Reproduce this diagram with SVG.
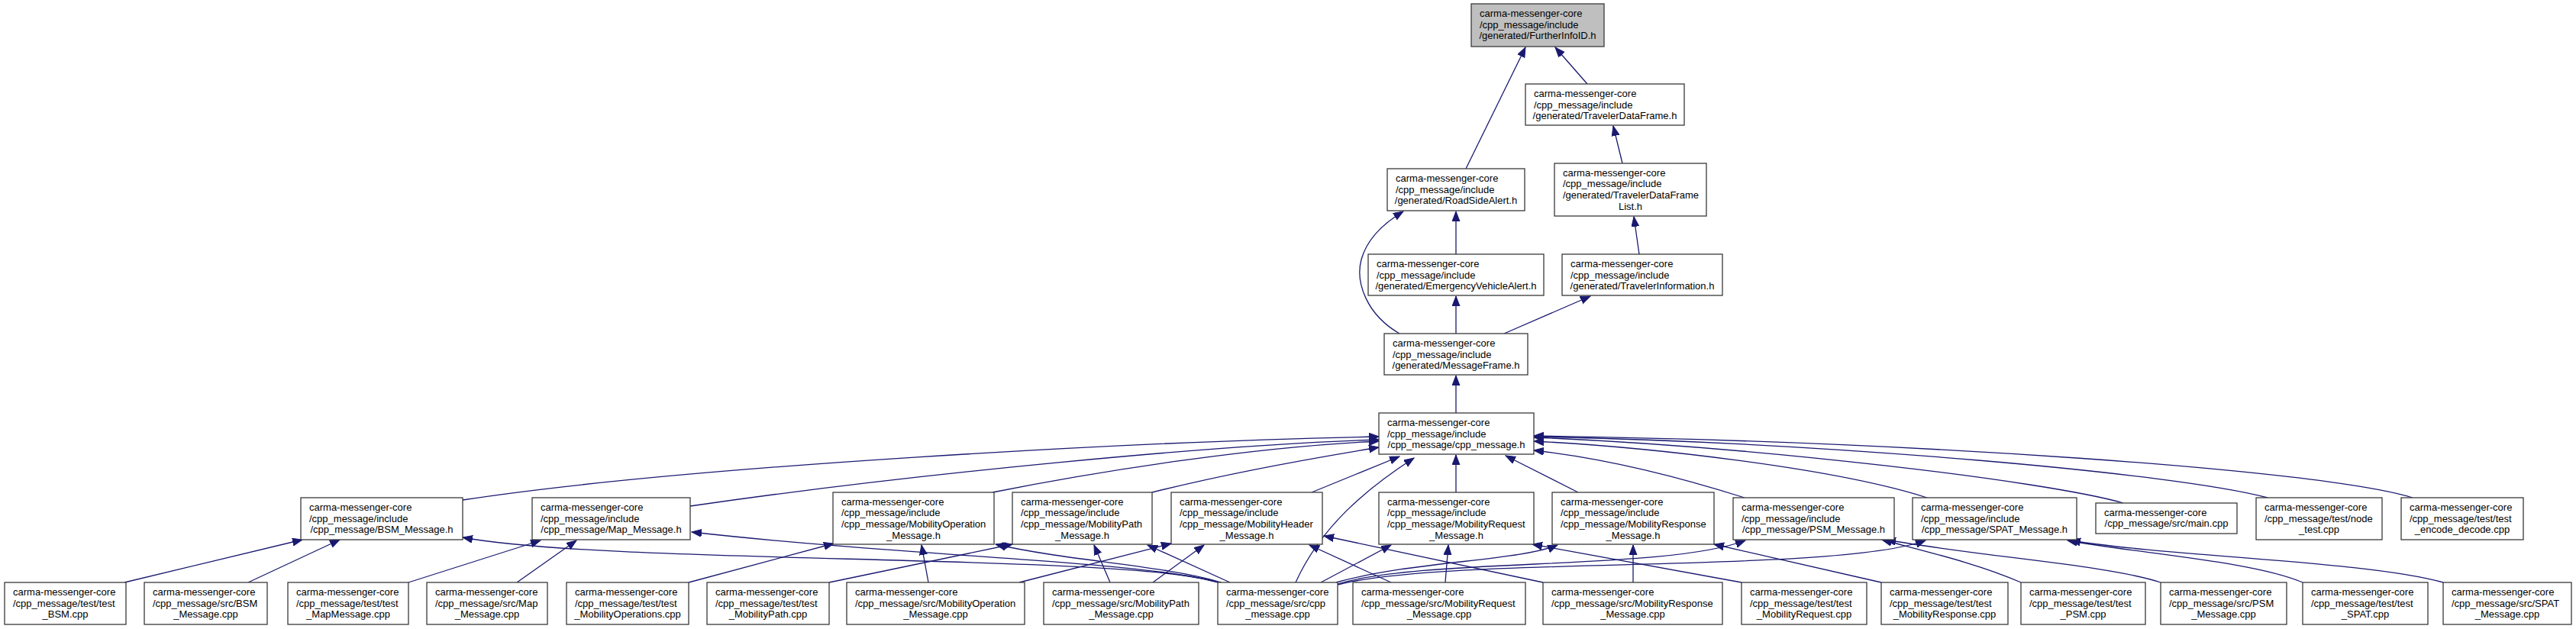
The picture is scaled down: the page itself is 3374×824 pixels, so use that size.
<svg xmlns="http://www.w3.org/2000/svg" width="3374" height="824" viewBox="0 0 3374 824">
<style>
.node rect{fill:#ffffff;stroke:#3a3a3a;stroke-width:1.3}
.node text{font-family:"Liberation Sans",Arial,sans-serif;font-size:13px;fill:#000}
.c{text-anchor:middle}
#edges path{fill:none;stroke:#191970;stroke-width:1.3;marker-end:url(#ah)}
</style>
<defs>
<marker id="ah" markerUnits="userSpaceOnUse" markerWidth="14" markerHeight="11" refX="13" refY="5" orient="auto">
<path d="M0,0 L13,5 L0,10 z" fill="#191970" stroke="#191970" stroke-width="1"/>
</marker>
</defs>
<rect width="3374" height="824" fill="#ffffff"/>

<g id="edges">
<path d="M1920,221 L1998,62"/>
<path d="M2079,110 L2037,62"/>
<path d="M2125,214 L2113,165"/>
<path d="M2147,333 L2140,284"/>
<path d="M1907,333 L1907,277"/>
<path d="M1833,437 C1790,412 1775,370 1783,340 C1790,315 1808,295 1838,277"/>
<path d="M1907,437 L1907,388"/>
<path d="M1970,437 L2083,388"/>
<path d="M1907,541 L1907,492"/>

<path d="M606,655 C900,610 1500,578 1806,572"/>
<path d="M904,663 C1200,620 1600,582 1806,576"/>
<path d="M1300,645 C1450,615 1650,585 1806,578"/>
<path d="M1509,645 C1600,622 1720,600 1806,586"/>
<path d="M1718,645 L1833,598"/>
<path d="M1907,645 L1907,596"/>
<path d="M2067,645 L1972,597"/>
<path d="M2285,652 C2200,625 2100,600 2009,590"/>
<path d="M2524,652 C2400,612 2150,585 2009,578"/>
<path d="M2781,659 C2680,630 2300,585 2009,573"/>
<path d="M2970,652 C2850,620 2400,580 2009,572"/>
<path d="M3160,652 C3040,615 2500,578 2009,571"/>

<path d="M163,763 L396,707"/>
<path d="M325,763 L445,707"/>
<path d="M535,763 L708,708"/>
<path d="M677,763 L755,708"/>
<path d="M902,763 L1092,712"/>
<path d="M1086,763 L1326,713"/>
<path d="M1216,763 L1207,714"/>
<path d="M1335,763 L1534,712"/>
<path d="M1454,763 L1433,714"/>
<path d="M1510,763 L1577,714"/>
<path d="M1595,763 C1480,725 800,740 606,704"/>
<path d="M1595,763 C1500,735 1200,730 906,697"/>
<path d="M1600,763 C1520,740 1400,735 1304,713"/>
<path d="M1611,763 L1503,714"/>
<path d="M1697,763 C1730,690 1790,640 1852,600"/>
<path d="M1730,763 L1822,714"/>
<path d="M1750,763 C1850,735 1990,735 2040,714"/>
<path d="M1752,765 C1870,730 2180,748 2286,708"/>
<path d="M1752,766 C1900,728 2400,752 2522,708"/>
<path d="M1822,763 L1715,714"/>
<path d="M1893,763 L1897,714"/>
<path d="M2021,763 L1734,702"/>
<path d="M2139,763 L2139,714"/>
<path d="M2281,763 L2007,713"/>
<path d="M2464,763 L2245,713"/>
<path d="M2647,763 C2590,738 2520,722 2465,707"/>
<path d="M2830,763 C2760,740 2600,730 2470,707"/>
<path d="M3016,763 C2950,735 2800,725 2708,708"/>
<path d="M3200,763 C3100,735 2850,730 2712,708"/>
</g>

<g id="n0" class="node"><rect x="1927" y="5" width="174" height="56" style="fill:#bfbfbf"/><text><tspan x="1938" y="22">carma-messenger-core</tspan><tspan x="1938" y="36.7">/cpp_message/include</tspan><tspan class="c" x="2014" y="51.4">/generated/FurtherInfoID.h</tspan></text></g>
<g id="n1" class="node"><rect x="1998" y="110" width="208" height="54"/><text><tspan x="2009" y="127">carma-messenger-core</tspan><tspan x="2009" y="141.7">/cpp_message/include</tspan><tspan class="c" x="2102" y="156.4">/generated/TravelerDataFrame.h</tspan></text></g>
<g id="n2" class="node"><rect x="1817" y="221" width="180" height="55"/><text><tspan x="1828" y="238">carma-messenger-core</tspan><tspan x="1828" y="252.7">/cpp_message/include</tspan><tspan class="c" x="1907" y="267.4">/generated/RoadSideAlert.h</tspan></text></g>
<g id="n3" class="node"><rect x="2036" y="214" width="199" height="69"/><text><tspan x="2047" y="230.5">carma-messenger-core</tspan><tspan x="2047" y="245.2">/cpp_message/include</tspan><tspan x="2047" y="259.9">/generated/TravelerDataFrame</tspan><tspan class="c" x="2135.5" y="274.6">List.h</tspan></text></g>
<g id="n4" class="node"><rect x="1792" y="333" width="230" height="54"/><text><tspan x="1803" y="350">carma-messenger-core</tspan><tspan x="1803" y="364.7">/cpp_message/include</tspan><tspan class="c" x="1907" y="379.4">/generated/EmergencyVehicleAlert.h</tspan></text></g>
<g id="n5" class="node"><rect x="2046" y="333" width="210" height="54"/><text><tspan x="2057" y="350">carma-messenger-core</tspan><tspan x="2057" y="364.7">/cpp_message/include</tspan><tspan class="c" x="2151" y="379.4">/generated/TravelerInformation.h</tspan></text></g>
<g id="n6" class="node"><rect x="1813" y="437" width="188" height="54"/><text><tspan x="1824" y="454">carma-messenger-core</tspan><tspan x="1824" y="468.7">/cpp_message/include</tspan><tspan class="c" x="1907" y="483.4">/generated/MessageFrame.h</tspan></text></g>
<g id="n7" class="node"><rect x="1806" y="541" width="203" height="54"/><text><tspan x="1817" y="558">carma-messenger-core</tspan><tspan x="1817" y="572.7">/cpp_message/include</tspan><tspan class="c" x="1907.5" y="587.4">/cpp_message/cpp_message.h</tspan></text></g>

<g id="n8" class="node"><rect x="394" y="652" width="212" height="55"/><text><tspan x="405" y="669">carma-messenger-core</tspan><tspan x="405" y="683.7">/cpp_message/include</tspan><tspan class="c" x="500" y="698.4">/cpp_message/BSM_Message.h</tspan></text></g>
<g id="n9" class="node"><rect x="697" y="652" width="207" height="55"/><text><tspan x="708" y="669">carma-messenger-core</tspan><tspan x="708" y="683.7">/cpp_message/include</tspan><tspan class="c" x="800.5" y="698.4">/cpp_message/Map_Message.h</tspan></text></g>
<g id="n10" class="node"><rect x="1091" y="645" width="211" height="68"/><text><tspan x="1102" y="661.5">carma-messenger-core</tspan><tspan x="1102" y="676.2">/cpp_message/include</tspan><tspan x="1102" y="690.9">/cpp_message/MobilityOperation</tspan><tspan class="c" x="1196.5" y="705.6">_Message.h</tspan></text></g>
<g id="n11" class="node"><rect x="1326" y="645" width="183" height="68"/><text><tspan x="1337" y="661.5">carma-messenger-core</tspan><tspan x="1337" y="676.2">/cpp_message/include</tspan><tspan x="1337" y="690.9">/cpp_message/MobilityPath</tspan><tspan class="c" x="1417.5" y="705.6">_Message.h</tspan></text></g>
<g id="n12" class="node"><rect x="1534" y="645" width="198" height="68"/><text><tspan x="1545" y="661.5">carma-messenger-core</tspan><tspan x="1545" y="676.2">/cpp_message/include</tspan><tspan x="1545" y="690.9">/cpp_message/MobilityHeader</tspan><tspan class="c" x="1633" y="705.6">_Message.h</tspan></text></g>
<g id="n13" class="node"><rect x="1806" y="645" width="203" height="68"/><text><tspan x="1817" y="661.5">carma-messenger-core</tspan><tspan x="1817" y="676.2">/cpp_message/include</tspan><tspan x="1817" y="690.9">/cpp_message/MobilityRequest</tspan><tspan class="c" x="1907.5" y="705.6">_Message.h</tspan></text></g>
<g id="n14" class="node"><rect x="2033" y="645" width="212" height="68"/><text><tspan x="2044" y="661.5">carma-messenger-core</tspan><tspan x="2044" y="676.2">/cpp_message/include</tspan><tspan x="2044" y="690.9">/cpp_message/MobilityResponse</tspan><tspan class="c" x="2139" y="705.6">_Message.h</tspan></text></g>
<g id="n15" class="node"><rect x="2270" y="652" width="211" height="55"/><text><tspan x="2281" y="669">carma-messenger-core</tspan><tspan x="2281" y="683.7">/cpp_message/include</tspan><tspan class="c" x="2375.5" y="698.4">/cpp_message/PSM_Message.h</tspan></text></g>
<g id="n16" class="node"><rect x="2505" y="652" width="215" height="55"/><text><tspan x="2516" y="669">carma-messenger-core</tspan><tspan x="2516" y="683.7">/cpp_message/include</tspan><tspan class="c" x="2612.5" y="698.4">/cpp_message/SPAT_Message.h</tspan></text></g>
<g id="n17" class="node"><rect x="2745" y="659" width="185" height="40"/><text><tspan x="2756" y="675.5">carma-messenger-core</tspan><tspan class="c" x="2837.5" y="690.2">/cpp_message/src/main.cpp</tspan></text></g>
<g id="n18" class="node"><rect x="2955" y="652" width="165" height="55"/><text><tspan x="2966" y="669">carma-messenger-core</tspan><tspan x="2966" y="683.7">/cpp_message/test/node</tspan><tspan class="c" x="3037.5" y="698.4">_test.cpp</tspan></text></g>
<g id="n19" class="node"><rect x="3145" y="652" width="160" height="55"/><text><tspan x="3156" y="669">carma-messenger-core</tspan><tspan x="3156" y="683.7">/cpp_message/test/test</tspan><tspan class="c" x="3225" y="698.4">_encode_decode.cpp</tspan></text></g>

<g id="n20" class="node"><rect x="6" y="763" width="159" height="55"/><text><tspan x="17" y="780">carma-messenger-core</tspan><tspan x="17" y="794.7">/cpp_message/test/test</tspan><tspan class="c" x="85.5" y="809.4">_BSM.cpp</tspan></text></g>
<g id="n21" class="node"><rect x="189" y="763" width="161" height="55"/><text><tspan x="200" y="780">carma-messenger-core</tspan><tspan x="200" y="794.7">/cpp_message/src/BSM</tspan><tspan class="c" x="269.5" y="809.4">_Message.cpp</tspan></text></g>
<g id="n22" class="node"><rect x="377" y="763" width="158" height="55"/><text><tspan x="388" y="780">carma-messenger-core</tspan><tspan x="388" y="794.7">/cpp_message/test/test</tspan><tspan class="c" x="456" y="809.4">_MapMessage.cpp</tspan></text></g>
<g id="n23" class="node"><rect x="559" y="763" width="158" height="55"/><text><tspan x="570" y="780">carma-messenger-core</tspan><tspan x="570" y="794.7">/cpp_message/src/Map</tspan><tspan class="c" x="638" y="809.4">_Message.cpp</tspan></text></g>
<g id="n24" class="node"><rect x="742" y="763" width="160" height="55"/><text><tspan x="753" y="780">carma-messenger-core</tspan><tspan x="753" y="794.7">/cpp_message/test/test</tspan><tspan class="c" x="822" y="809.4">_MobilityOperations.cpp</tspan></text></g>
<g id="n25" class="node"><rect x="926" y="763" width="160" height="55"/><text><tspan x="937" y="780">carma-messenger-core</tspan><tspan x="937" y="794.7">/cpp_message/test/test</tspan><tspan class="c" x="1006" y="809.4">_MobilityPath.cpp</tspan></text></g>
<g id="n26" class="node"><rect x="1109" y="763" width="233" height="55"/><text><tspan x="1120" y="780">carma-messenger-core</tspan><tspan x="1120" y="794.7">/cpp_message/src/MobilityOperation</tspan><tspan class="c" x="1225.5" y="809.4">_Message.cpp</tspan></text></g>
<g id="n27" class="node"><rect x="1367" y="763" width="203" height="55"/><text><tspan x="1378" y="780">carma-messenger-core</tspan><tspan x="1378" y="794.7">/cpp_message/src/MobilityPath</tspan><tspan class="c" x="1468.5" y="809.4">_Message.cpp</tspan></text></g>
<g id="n28" class="node"><rect x="1595" y="763" width="157" height="55"/><text><tspan x="1606" y="780">carma-messenger-core</tspan><tspan x="1606" y="794.7">/cpp_message/src/cpp</tspan><tspan class="c" x="1673.5" y="809.4">_message.cpp</tspan></text></g>
<g id="n29" class="node"><rect x="1772" y="763" width="226" height="55"/><text><tspan x="1783" y="780">carma-messenger-core</tspan><tspan x="1783" y="794.7">/cpp_message/src/MobilityRequest</tspan><tspan class="c" x="1885" y="809.4">_Message.cpp</tspan></text></g>
<g id="n30" class="node"><rect x="2021" y="763" width="235" height="55"/><text><tspan x="2032" y="780">carma-messenger-core</tspan><tspan x="2032" y="794.7">/cpp_message/src/MobilityResponse</tspan><tspan class="c" x="2138.5" y="809.4">_Message.cpp</tspan></text></g>
<g id="n31" class="node"><rect x="2281" y="763" width="164" height="55"/><text><tspan x="2292" y="780">carma-messenger-core</tspan><tspan x="2292" y="794.7">/cpp_message/test/test</tspan><tspan class="c" x="2363" y="809.4">_MobilityRequest.cpp</tspan></text></g>
<g id="n32" class="node"><rect x="2464" y="763" width="166" height="55"/><text><tspan x="2475" y="780">carma-messenger-core</tspan><tspan x="2475" y="794.7">/cpp_message/test/test</tspan><tspan class="c" x="2547" y="809.4">_MobilityResponse.cpp</tspan></text></g>
<g id="n33" class="node"><rect x="2647" y="763" width="163" height="55"/><text><tspan x="2658" y="780">carma-messenger-core</tspan><tspan x="2658" y="794.7">/cpp_message/test/test</tspan><tspan class="c" x="2728.5" y="809.4">_PSM.cpp</tspan></text></g>
<g id="n34" class="node"><rect x="2830" y="763" width="165" height="55"/><text><tspan x="2841" y="780">carma-messenger-core</tspan><tspan x="2841" y="794.7">/cpp_message/src/PSM</tspan><tspan class="c" x="2912.5" y="809.4">_Message.cpp</tspan></text></g>
<g id="n35" class="node"><rect x="3016" y="763" width="164" height="55"/><text><tspan x="3027" y="780">carma-messenger-core</tspan><tspan x="3027" y="794.7">/cpp_message/test/test</tspan><tspan class="c" x="3098" y="809.4">_SPAT.cpp</tspan></text></g>
<g id="n36" class="node"><rect x="3200" y="763" width="168" height="55"/><text><tspan x="3211" y="780">carma-messenger-core</tspan><tspan x="3211" y="794.7">/cpp_message/src/SPAT</tspan><tspan class="c" x="3284" y="809.4">_Message.cpp</tspan></text></g>
</svg>
